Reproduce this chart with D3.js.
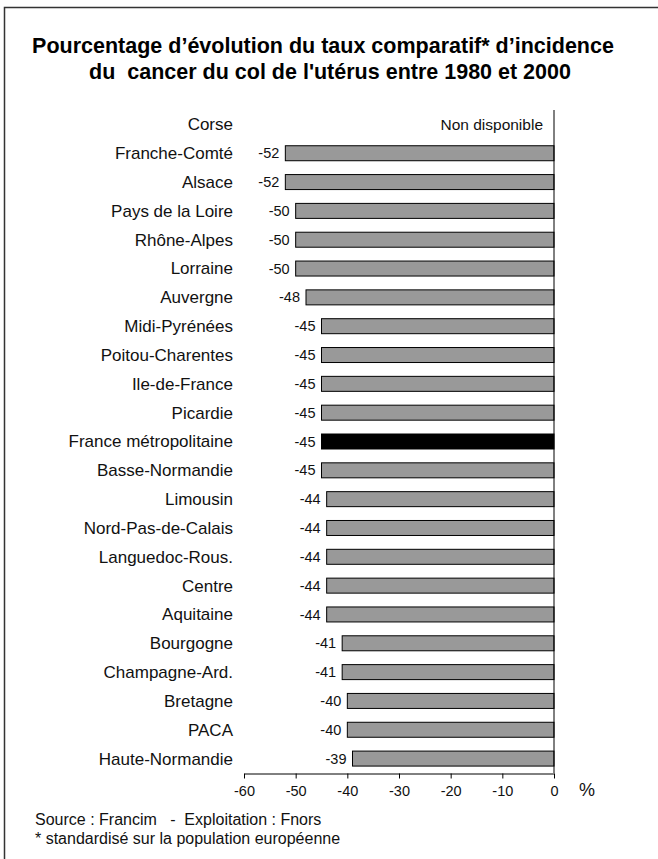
<!DOCTYPE html>
<html>
<head>
<meta charset="utf-8">
<script src="https://cdn.jsdelivr.net/npm/d3@7/dist/d3.min.js"></script>
<style>
  body { margin: 0; background: #fff; }
  svg { display: block; font-family: "Liberation Sans", Arial, sans-serif; }
  .pre { white-space: pre; }
</style>
</head>
<body>
<svg id="chart" width="658" height="859"></svg>
<script>
// Régions, de haut en bas
const regions = [
  "Corse", "Franche-Comté", "Alsace", "Pays de la Loire", "Rhône-Alpes",
  "Lorraine", "Auvergne", "Midi-Pyrénées", "Poitou-Charentes", "Ile-de-France",
  "Picardie", "France métropolitaine", "Basse-Normandie", "Limousin",
  "Nord-Pas-de-Calais", "Languedoc-Rous.", "Centre", "Aquitaine", "Bourgogne",
  "Champagne-Ard.", "Bretagne", "PACA", "Haute-Normandie"
];

// Évolution en % (null = non disponible)
const evolution = [
  null, -52, -52, -50, -50, -50, -48, -45, -45, -45, -45, -45, -45,
  -44, -44, -44, -44, -44, -41, -41, -40, -40, -39
];

const xTicks = [-60, -50, -40, -30, -20, -10, 0];
const highlight = "France métropolitaine";

const svg = d3.select("#chart");

// Cadre
svg.append("path")
  .attr("d", "M4.5,859 V7.5 H658")
  .attr("fill", "none")
  .attr("stroke", "#333")
  .attr("stroke-width", 1.5);

// Titre
const title = svg.append("text")
  .attr("class", "pre")
  .attr("text-anchor", "middle")
  .attr("font-weight", "bold")
  .attr("font-size", 21.5)
  .attr("fill", "#000");
title.append("tspan").attr("x", 323).attr("y", 53)
  .text("Pourcentage d’évolution du taux comparatif* d’incidence");
title.append("tspan").attr("x", 330).attr("y", 79)
  .text("du  cancer du col de l'utérus entre 1980 et 2000");

const x = d3.scaleLinear().domain([-60, 0]).range([244, 554]);
const y = d3.scaleBand().domain(regions).range([110, 773]).paddingInner(0.48).paddingOuter(0.24);

const rows = regions.map((r, i) => ({ region: r, value: evolution[i] }));

// Libellés des régions
svg.append("g").selectAll("text")
  .data(rows).join("text")
  .attr("x", 233)
  .attr("y", d => y(d.region) + y.bandwidth() / 2)
  .attr("dy", "0.35em")
  .attr("text-anchor", "end")
  .attr("font-size", 17)
  .attr("fill", "#111")
  .text(d => d.region);

// Barres
const withVal = rows.filter(d => d.value !== null);
svg.append("g").selectAll("rect")
  .data(withVal).join("rect")
  .attr("x", d => x(d.value))
  .attr("y", d => y(d.region))
  .attr("width", d => x(0) - x(d.value))
  .attr("height", y.bandwidth())
  .attr("fill", d => d.region === highlight ? "#000" : "#999")
  .attr("stroke", "#000")
  .attr("stroke-width", 1);

// Valeurs
svg.append("g").selectAll("text")
  .data(withVal).join("text")
  .attr("x", d => x(d.value) - 6)
  .attr("y", d => y(d.region) + y.bandwidth() / 2)
  .attr("dy", "0.35em")
  .attr("text-anchor", "end")
  .attr("font-size", 14.5)
  .attr("fill", "#111")
  .text(d => String(d.value));

// Non disponible
rows.filter(d => d.value === null).forEach(d => {
  svg.append("text")
    .attr("x", 543)
    .attr("y", y(d.region) + y.bandwidth() / 2)
    .attr("dy", "0.35em")
    .attr("text-anchor", "end")
    .attr("font-size", 15.5)
    .attr("fill", "#111")
    .text("Non disponible");
});

// Axe vertical à zéro
svg.append("line")
  .attr("x1", x(0)).attr("x2", x(0))
  .attr("y1", 110).attr("y2", 773)
  .attr("stroke", "#000").attr("stroke-width", 1);

// Axe horizontal
const xAxis = svg.append("g")
  .attr("transform", "translate(0,773.5)")
  .call(d3.axisBottom(x).tickValues(xTicks).tickFormat(d => String(d))
    .tickSize(5).tickSizeOuter(0).tickPadding(7));
xAxis.select(".domain").attr("stroke", "#000");
xAxis.selectAll(".tick line").attr("stroke", "#000");
xAxis.selectAll("text")
  .attr("font-family", "Liberation Sans, Arial, sans-serif")
  .attr("font-size", 14.5)
  .attr("fill", "#111");

svg.append("text")
  .attr("x", 579).attr("y", 796)
  .attr("font-size", 18)
  .attr("fill", "#111")
  .text("%");

// Notes
svg.append("text").attr("x", 35).attr("y", 825)
  .attr("class", "pre")
  .attr("font-size", 16).attr("fill", "#111")
  .text("Source : Francim   -  Exploitation : Fnors");
svg.append("text").attr("x", 35).attr("y", 844)
  .attr("font-size", 16).attr("fill", "#111")
  .text("* standardisé sur la population européenne");
</script>
</body>
</html>
